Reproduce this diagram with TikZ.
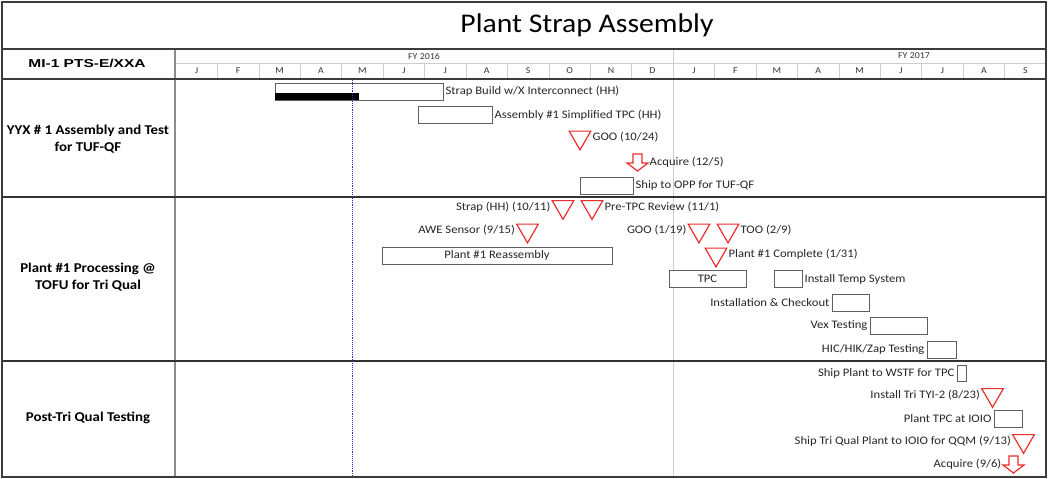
\documentclass[tikz,border=0pt]{standalone}
\usepackage{fontspec}
\setmainfont{Carlito}[FakeStretch=1.1]
\newfontfamily\hdrfont{Liberation Sans}[FakeStretch=1.35]
\usetikzlibrary{shapes,positioning}

\definecolor{msred}{RGB}{235,45,45}
\definecolor{gridgray}{RGB}{205,205,205}
\definecolor{framegray}{RGB}{60,60,60}
\definecolor{boxgray}{RGB}{95,95,95}
\definecolor{statusblue}{RGB}{45,45,200}

% block arrow for acquisition dates, drawn round a named coordinate
\newcommand{\acquirearrow}[1]{%
  \draw[acquire] (#1) ++(-4.5,-8.5) -- ++(9,0) -- ++(0,9) -- ++(6,0)
    -- ++(-10.5,8) -- ++(-10.5,-8) -- ++(6,0) -- cycle;}

\begin{document}
\begin{tikzpicture}[x=1pt, y=-1pt,
    % Node styles
    title/.style={font=\fontsize{27}{30}\selectfont, text=black},
    header/.style={font=\hdrfont\bfseries\fontsize{11.5}{13}\selectfont},
    fylabel/.style={font=\fontsize{9}{10}\selectfont, text=black!80},
    month/.style={font=\fontsize{9}{10}\selectfont, text=black!80},
    section/.style={font=\bfseries\fontsize{13.5}{16.5}\selectfont, align=center},
    bar/.style={rectangle, draw=boxgray, fill=white, minimum height=17, 
                inner sep=0, line width=0.8pt},
    progress/.style={rectangle, fill=black, minimum height=7, inner sep=0},
    milestone/.style={regular polygon, regular polygon sides=3, shape border rotate=180, 
                      draw=msred, line width=1.2pt, minimum size=25, inner sep=0, anchor=north},
    acquire/.style={draw=msred, line width=1.2pt, line join=miter},
    task/.style={font=\fontsize{11.5}{13}\selectfont, text=black!85, inner sep=1pt},
    gridline/.style={gridgray, line width=0.6pt},
    outerframe/.style={framegray, line width=1.2pt},
    divider/.style={black!80, line width=1.8pt},
    today/.style={statusblue, densely dotted, line width=0.9pt}
]

\useasboundingbox (0,0) rectangle (1049,479);

% Frame and grid
\draw[gridline] (673,49) -- (673,477);
\draw[gridline] (176,63) -- (1046,63);
\foreach \i in {1,...,20}
    \draw[gridline] (176+\i*41.43,63) -- (176+\i*41.43,79);
\draw[black!45, line width=1.4pt] (175,49) -- (175,477);
\draw[outerframe] (2,49) -- (1046,49);
\draw[outerframe] (2,79) -- (1046,79);
\draw[divider] (2,197) -- (1046,197);
\draw[divider] (2,361) -- (1046,361);
\draw[outerframe] (2,2) rectangle (1046,477);

% Title and header
\node[title] (title) at (587,25) {Plant Strap Assembly};
\node[header] (program) at (87,63) {MI-1 PTS-E/XXA};
\node[fylabel] (fy16) at (424,56) {FY 2016};
\node[fylabel] (fy17) at (914,56) {FY 2017};
\foreach \m [count=\i] in {J,F,M,A,M,J,J,A,S,O,N,D,J,F,M,A,M,J,J,A,S}
    \node[month] (m\i) at (176+\i*41.43-20.7,71) {\m};

% Section labels
\node[section] (sec1) at (88,139) {YYX \# 1 Assembly and Test\\for TUF-QF};
\node[section] (sec2) at (88,277) {Plant \#1 Processing @\\TOFU for Tri Qual};
\node[section] (sec3) at (88,418) {Post-Tri Qual Testing};

% 1. YYX assembly and test
\node[bar, minimum width=168] (strapbuild) at (359,91.5) {};
\node[progress, minimum width=84] (strapdone) at (317,96.5) {};
\node[task, right=1pt of strapbuild] (strapbuildlbl) {Strap Build w/X Interconnect (HH)};

\node[bar, minimum width=74] (asm1) at (455,115) {};
\node[task, right=1pt of asm1] (asm1lbl) {Assembly \#1 Simplified TPC (HH)};

\node[milestone] (goo1) at (580,130.5) {};
\node[task, right=3.5pt of goo1] (goo1lbl) {GOO (10/24)};

\coordinate (acq1) at (637.5,162.5);
\acquirearrow{acq1}
\node[task, right=11pt of acq1] (acq1lbl) {Acquire (12/5)};

\node[bar, minimum width=53] (shipopp) at (606.5,185.5) {};
\node[task, right=1pt of shipopp] (shipopplbl) {Ship to OPP for TUF-QF};

% 2. Plant processing
\node[milestone] (strapms) at (563,200) {};
\node[task, left=3.5pt of strapms] (strapmslbl) {Strap (HH) (10/11)};
\node[milestone] (pretpc) at (592,200) {};
\node[task, right=3.5pt of pretpc] (pretpclbl) {Pre-TPC Review (11/1)};

\node[milestone] (awe) at (527.5,223.5) {};
\node[task, left=3.5pt of awe] (awelbl) {AWE Sensor (9/15)};
\node[milestone] (goo2) at (699,223.5) {};
\node[task, left=3.5pt of goo2] (goo2lbl) {GOO (1/19)};
\node[milestone] (too) at (728,223.5) {};
\node[task, right=3.5pt of too] (toolbl) {TOO (2/9)};

\node[task, bar, minimum width=230] (reassy) at (497,255.5) {Plant \#1 Reassembly};
\node[milestone] (plantdone) at (716,247.5) {};
\node[task, right=3.5pt of plantdone] (plantdonelbl) {Plant \#1 Complete (1/31)};

\node[task, bar, minimum width=77] (tpc) at (707.5,279) {TPC};
\node[bar, minimum width=28] (tempsys) at (788,279) {};
\node[task, right=1pt of tempsys] (tempsyslbl) {Install Temp System};

\node[bar, minimum width=37] (checkout) at (850.5,302.5) {};
\node[task, left=1pt of checkout] (checkoutlbl) {Installation \& Checkout};

\node[bar, minimum width=57] (vex) at (898.5,325.5) {};
\node[task, left=1pt of vex] (vexlbl) {Vex Testing};

\node[bar, minimum width=29] (hic) at (941.5,349.5) {};
\node[task, left=1pt of hic] (hiclbl) {HIC/HIK/Zap Testing};

% 3. Post-Tri Qual testing
\node[bar, minimum width=9, minimum height=16] (wstf) at (961.5,373.5) {};
\node[task, left=1pt of wstf] (wstflbl) {Ship Plant to WSTF for TPC};

\node[milestone] (tyi) at (992.5,388) {};
\node[task, left=3.5pt of tyi] (tyilbl) {Install Tri TYI-2 (8/23)};

\node[bar, minimum width=28] (ioio) at (1008,419) {};
\node[task, left=1pt of ioio] (ioiolbl) {Plant TPC at IOIO};

\node[milestone] (qqm) at (1023.5,434) {};
\node[task, left=3.5pt of qqm] (qqmlbl) {Ship Tri Qual Plant to IOIO for QQM (9/13)};

\coordinate (acq2) at (1013.5,464.5);
\acquirearrow{acq2}
\node[task, left=11pt of acq2] (acq2lbl) {Acquire (9/6)};

% Status date
\draw[today] (352,80) -- (352,477);

\end{tikzpicture}
\end{document}
